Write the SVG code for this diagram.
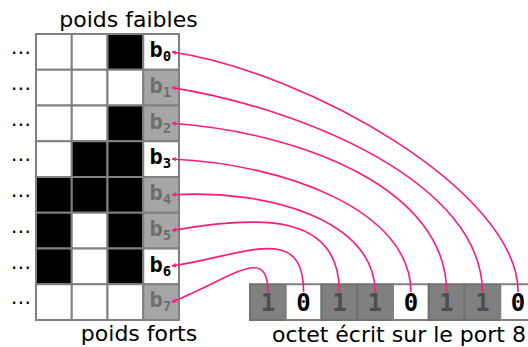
<svg xmlns="http://www.w3.org/2000/svg" width="528" height="347" viewBox="0 0 528 347">
<style>
.lbl{font-family:"DejaVu Sans",sans-serif;font-size:22px;fill:#000}
.dots{font-family:"DejaVu Sans",sans-serif;font-size:20px;fill:#000;text-anchor:middle}
.w{fill:#fff;stroke:#808080;stroke-width:2}
.k{fill:#000;stroke:#808080;stroke-width:2}
.g{fill:#a6a6a6;stroke:#808080;stroke-width:2}
.d{fill:#808080;stroke:#707070;stroke-width:2}
.bb{font-family:"DejaVu Sans Mono",monospace;font-weight:bold;font-size:22px;fill:#000}
.bg{font-family:"DejaVu Sans Mono",monospace;font-weight:bold;font-size:22px;fill:#6e6e6e}
.sub{font-size:14px}
.dig0{font-family:"DejaVu Sans Mono",monospace;font-weight:bold;font-size:24px;fill:#000;text-anchor:middle}
.dig1{font-family:"DejaVu Sans Mono",monospace;font-weight:bold;font-size:24px;fill:#4d4d4d;text-anchor:middle}
.c{fill:none;stroke:#ff1a7a;stroke-width:1.6;marker-end:url(#ah)}
</style>
<defs>
<marker id="ah" viewBox="0 0 10 10" refX="9" refY="5" markerWidth="5" markerHeight="5" orient="auto" markerUnits="userSpaceOnUse">
<path d="M0,0 L10,5 L0,10 L3,5 Z" fill="#ff1a7a"/>
</marker>
</defs>
<g id="title-top"><text class="lbl" x="128.5" y="27" text-anchor="middle">poids faibles</text></g>
<g id="title-bottom"><text class="lbl" x="139" y="341" text-anchor="middle">poids forts</text></g>
<g id="title-byte"><text class="lbl" x="272" y="342">octet écrit sur le port 8</text></g>
<g id="grid">
<rect class="w" x="36" y="34" width="35.75" height="35.75"/><rect class="w" x="71.75" y="34" width="35.75" height="35.75"/><rect class="k" x="107.5" y="34" width="35.75" height="35.75"/>
<rect class="w" x="36" y="69.75" width="35.75" height="35.75"/><rect class="w" x="71.75" y="69.75" width="35.75" height="35.75"/><rect class="w" x="107.5" y="69.75" width="35.75" height="35.75"/>
<rect class="w" x="36" y="105.5" width="35.75" height="35.75"/><rect class="w" x="71.75" y="105.5" width="35.75" height="35.75"/><rect class="k" x="107.5" y="105.5" width="35.75" height="35.75"/>
<rect class="w" x="36" y="141.25" width="35.75" height="35.75"/><rect class="k" x="71.75" y="141.25" width="35.75" height="35.75"/><rect class="k" x="107.5" y="141.25" width="35.75" height="35.75"/>
<rect class="k" x="36" y="177" width="35.75" height="35.75"/><rect class="k" x="71.75" y="177" width="35.75" height="35.75"/><rect class="k" x="107.5" y="177" width="35.75" height="35.75"/>
<rect class="k" x="36" y="212.75" width="35.75" height="35.75"/><rect class="w" x="71.75" y="212.75" width="35.75" height="35.75"/><rect class="k" x="107.5" y="212.75" width="35.75" height="35.75"/>
<rect class="k" x="36" y="248.5" width="35.75" height="35.75"/><rect class="w" x="71.75" y="248.5" width="35.75" height="35.75"/><rect class="k" x="107.5" y="248.5" width="35.75" height="35.75"/>
<rect class="w" x="36" y="284.25" width="35.75" height="35.75"/><rect class="w" x="71.75" y="284.25" width="35.75" height="35.75"/><rect class="w" x="107.5" y="284.25" width="35.75" height="35.75"/>
</g>
<g id="dots">
<text class="dots" x="21" y="59">⋯</text><text class="dots" x="21" y="94.75">⋯</text><text class="dots" x="21" y="130.5">⋯</text><text class="dots" x="21" y="166.25">⋯</text>
<text class="dots" x="21" y="202">⋯</text><text class="dots" x="21" y="237.75">⋯</text><text class="dots" x="21" y="273.5">⋯</text><text class="dots" x="21" y="309.25">⋯</text>
</g>
<g id="b0"><rect class="w" x="143.25" y="34" width="35.75" height="35.75"/><text class="bb" x="149.5" y="57">b<tspan class="sub" dy="4">0</tspan></text></g>
<g id="b1"><rect class="g" x="143.25" y="69.75" width="35.75" height="35.75"/><text class="bg" x="149.5" y="92.75">b<tspan class="sub" dy="4">1</tspan></text></g>
<g id="b2"><rect class="g" x="143.25" y="105.5" width="35.75" height="35.75"/><text class="bg" x="149.5" y="128.5">b<tspan class="sub" dy="4">2</tspan></text></g>
<g id="b3"><rect class="w" x="143.25" y="141.25" width="35.75" height="35.75"/><text class="bb" x="149.5" y="164.25">b<tspan class="sub" dy="4">3</tspan></text></g>
<g id="b4"><rect class="g" x="143.25" y="177" width="35.75" height="35.75"/><text class="bg" x="149.5" y="200">b<tspan class="sub" dy="4">4</tspan></text></g>
<g id="b5"><rect class="g" x="143.25" y="212.75" width="35.75" height="35.75"/><text class="bg" x="149.5" y="235.75">b<tspan class="sub" dy="4">5</tspan></text></g>
<g id="b6"><rect class="w" x="143.25" y="248.5" width="35.75" height="35.75"/><text class="bb" x="149.5" y="271.5">b<tspan class="sub" dy="4">6</tspan></text></g>
<g id="b7"><rect class="g" x="143.25" y="284.25" width="35.75" height="35.75"/><text class="bg" x="149.5" y="307.25">b<tspan class="sub" dy="4">7</tspan></text></g>
<g id="byte">
<rect class="d" x="250" y="284.25" width="35.75" height="35.75"/><text class="dig1" x="267.9" y="311">1</text>
<rect class="w" x="285.75" y="284.25" width="35.75" height="35.75"/><text class="dig0" x="303.6" y="311">0</text>
<rect class="d" x="321.5" y="284.25" width="35.75" height="35.75"/><text class="dig1" x="339.4" y="311">1</text>
<rect class="d" x="357.25" y="284.25" width="35.75" height="35.75"/><text class="dig1" x="375.1" y="311">1</text>
<rect class="w" x="393" y="284.25" width="35.75" height="35.75"/><text class="dig0" x="410.9" y="311">0</text>
<rect class="d" x="428.75" y="284.25" width="35.75" height="35.75"/><text class="dig1" x="446.6" y="311">1</text>
<rect class="d" x="464.5" y="284.25" width="35.75" height="35.75"/><text class="dig1" x="482.4" y="311">1</text>
<rect class="w" x="500.25" y="284.25" width="35.75" height="35.75"/><text class="dig0" x="518.1" y="311">0</text>
</g>
<g id="connectors">
<path class="c" d="M267.9,292 C267.9,244 232,278 172,302"/>
<path class="c" d="M303.6,292 C303.6,222 245,255 172,266"/>
<path class="c" d="M339.4,292 C339.4,215 265,214 172,230.5"/>
<path class="c" d="M375.1,292 C375.1,220 268,189 172,194.8"/>
<path class="c" d="M410.9,292 C410.9,210 284,164 172,159"/>
<path class="c" d="M446.6,292 C446.6,190 305,133 172,123.3"/>
<path class="c" d="M482.4,292 C482.4,185 310,110 172,87.6"/>
<path class="c" d="M518.1,292 C518.1,191 307,72 172,52"/>
</g>
</svg>
